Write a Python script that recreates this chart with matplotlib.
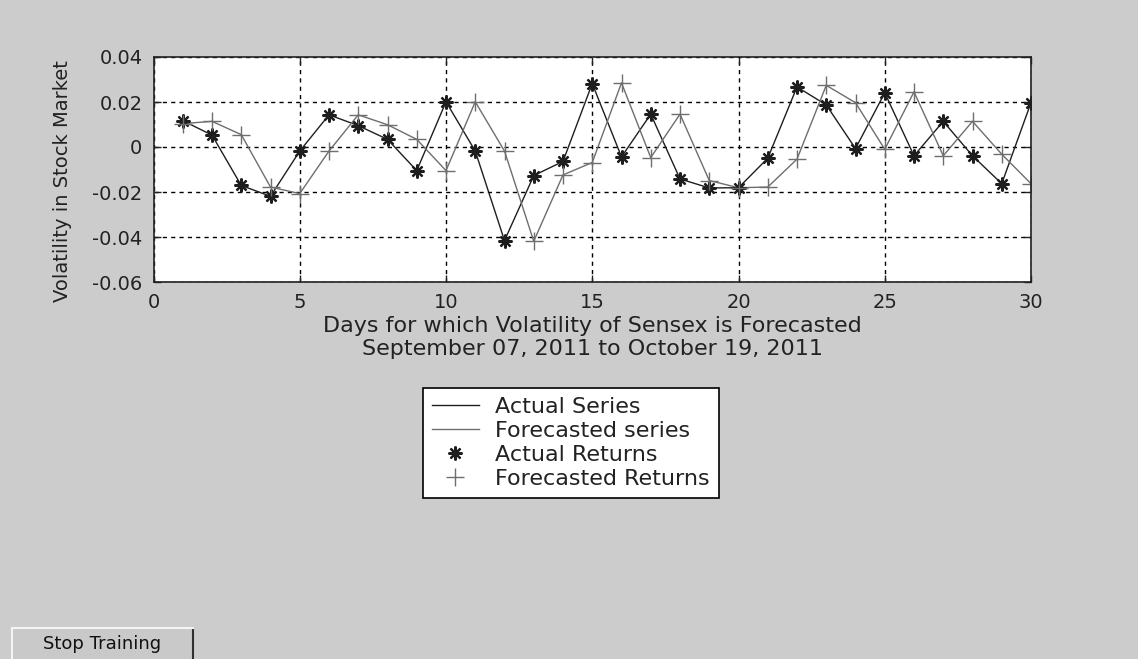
import matplotlib
matplotlib.use("Agg")
import matplotlib.pyplot as plt
from matplotlib.patches import Rectangle

plt.rcParams['font.family'] = ['DejaVu Sans']

days = list(range(1, 31))
actual = [0.0117, 0.0053, -0.0171, -0.0219, -0.0018, 0.0143, 0.0095, 0.0034, -0.0105, 0.0201,
          -0.0018, -0.0416, -0.0127, -0.0064, 0.0282, -0.0044, 0.0146, -0.0142, -0.0182, -0.0181,
          -0.0050, 0.0267, 0.0187, -0.0007, 0.0241, -0.0039, 0.0114, -0.0039, -0.0163, 0.0197]
forecast = [0.0104, 0.0114, 0.0055, -0.0178, -0.0207, -0.0018, 0.0143, 0.0099, 0.0034, -0.0105,
            0.0201, -0.0018, -0.0419, -0.0124, -0.0069, 0.0285, -0.0047, 0.0146, -0.0149, -0.0181,
            -0.0178, -0.0054, 0.0274, 0.0197, -0.0010, 0.0245, -0.0039, 0.0114, -0.0032, -0.0163]
yticks = [-0.06, -0.04, -0.02, 0, 0.02, 0.04]
ytick_labels = ['-0.06', '-0.04', '-0.02', '0', '0.02', '0.04']
xticks = [0, 5, 10, 15, 20, 25, 30]

bg = '#cccccc'
dark = '#1e1e1e'
grey = '#6e6e6e'
W, H = 1138, 659

fig = plt.figure(figsize=(W / 100, H / 100), dpi=100, facecolor=bg)
ax = fig.add_axes([153.5 / W, 1 - 282 / H, 877.5 / W, 225 / H])
ax.set_facecolor('white')

l1, = ax.plot(days, actual, color=dark, lw=1.0, label='Actual Series')
l2, = ax.plot(days, forecast, color=grey, lw=1.0, label='Forecasted series')
m1, = ax.plot(days, actual, ls='none', marker=(8, 2, 0), ms=10, mew=1.6,
              color=dark, label='Actual Returns')
m2, = ax.plot(days, forecast, ls='none', marker='+', ms=13, mew=1.0,
              color=grey, label='Forecasted Returns')

ax.set_xlim(0, 30)
ax.set_ylim(-0.06, 0.04)
ax.set_xticks(xticks)
ax.set_yticks(yticks)
ax.set_yticklabels(ytick_labels)
ax.grid(True, color='black', ls=(0, (3, 3)), lw=1.0)
ax.tick_params(direction='in', length=5, width=1, top=True, right=True,
               labelsize=14, colors='#222222', pad=8)
for s in ax.spines.values():
    s.set_color('#222222')
    s.set_linewidth(1.2)

ax.set_ylabel('Volatility in Stock Market', fontsize=14, color='#222222')
ax.yaxis.set_label_coords(-0.093, 0.45)
ax.set_xlabel('Days for which Volatility of Sensex is Forecasted\n'
              'September 07, 2011 to October 19, 2011', fontsize=16,
              color='#222222', labelpad=3, linespacing=1.2)

leg = fig.legend(handles=[l1, l2, m1, m2], loc='upper left',
                 bbox_to_anchor=(423 / W, 1 - 388 / H),
                 prop={'size': 16}, frameon=True, fancybox=False, framealpha=1,
                 edgecolor='black', handlelength=2.1, handletextpad=0.75,
                 labelspacing=0.18, borderpad=0.4, borderaxespad=0)
leg.get_frame().set_linewidth(1.2)
for t in leg.get_texts():
    t.set_color('#222222')

# "Stop Training" push button at bottom left
fig.patches.append(Rectangle((12 / W, 0), 181 / W, 31 / H,
                             transform=fig.transFigure, facecolor='#c9c9c9',
                             edgecolor='none'))
fig.lines.append(plt.Line2D([193 / W, 193 / W], [0, 31 / H],
                            transform=fig.transFigure, color='#303030', lw=1.5))
fig.lines.append(plt.Line2D([12 / W, 193 / W], [31 / H, 31 / H],
                            transform=fig.transFigure, color='#f4f4f4', lw=1.5))
fig.lines.append(plt.Line2D([12 / W, 12 / W], [0, 31 / H],
                            transform=fig.transFigure, color='#f4f4f4', lw=1.5))
fig.text(102 / W, 1 - 644 / H, 'Stop Training', ha='center', va='center',
         fontsize=13, color='#111111')

fig.savefig('out.png', dpi=100, facecolor=bg)
